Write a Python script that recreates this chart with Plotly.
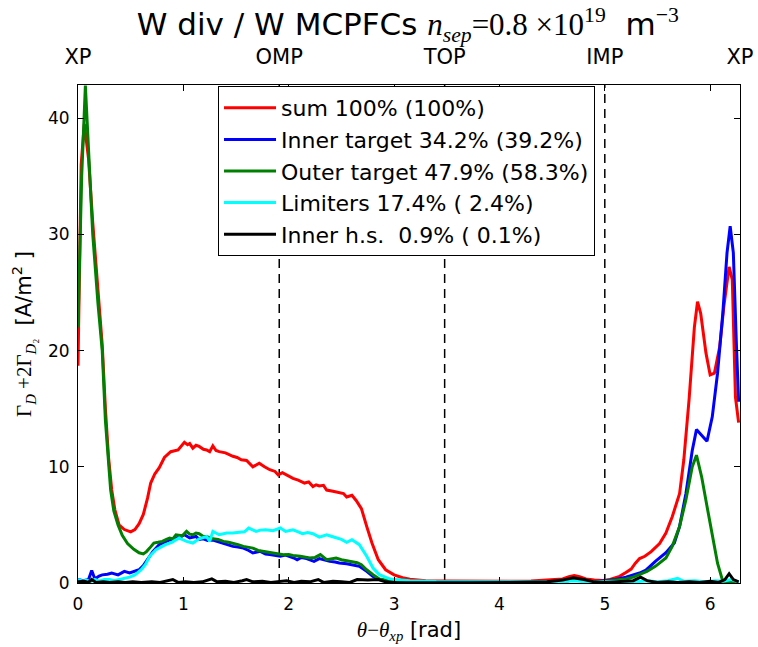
import math
import plotly.graph_objects as go

# ---------------- data ----------------
sum_pts = [(0, 18.7), (0.03, 36), (0.06, 39.5), (0.1, 36.5), (0.14, 31), (0.19, 25), (0.23, 20.5),
           (0.26, 15), (0.29, 10.8), (0.32, 8.0), (0.35, 6.3), (0.39, 5.0), (0.44, 4.6), (0.5, 4.4),
           (0.54, 4.6), (0.58, 5.1), (0.62, 5.9), (0.66, 7.3), (0.69, 8.6), (0.73, 9.4), (0.77, 9.9),
           (0.82, 10.8), (0.88, 11.3), (0.95, 11.45), (1.01, 12.1), (1.04, 11.9), (1.06, 12.0),
           (1.09, 11.6), (1.12, 11.85), (1.15, 11.75), (1.19, 11.5), (1.22, 11.45), (1.25, 11.3),
           (1.28, 11.8), (1.31, 11.4), (1.34, 11.3), (1.4, 11.2), (1.47, 10.9), (1.51, 10.8),
           (1.55, 10.6), (1.6, 10.55), (1.66, 10.0), (1.72, 10.3), (1.77, 10.0), (1.82, 9.75),
           (1.87, 9.6), (1.9, 9.3), (1.94, 9.5), (1.99, 9.25), (2.04, 9.0), (2.09, 8.85), (2.15, 8.6),
           (2.19, 8.7), (2.23, 8.3), (2.26, 8.45), (2.29, 8.35), (2.33, 8.4), (2.36, 8.0), (2.42, 7.9),
           (2.48, 7.75), (2.52, 7.7), (2.55, 7.4), (2.6, 7.55), (2.64, 7.1), (2.69, 6.4), (2.74, 4.87),
           (2.79, 3.44), (2.85, 2.0), (2.92, 1.14), (3.0, 0.7), (3.08, 0.45), (3.15, 0.33), (3.3, 0.2),
           (3.5, 0.17), (3.7, 0.15), (3.9, 0.17), (4.1, 0.16), (4.3, 0.18), (4.5, 0.25), (4.6, 0.35),
           (4.66, 0.55), (4.71, 0.65), (4.76, 0.55), (4.82, 0.35), (4.9, 0.25), (4.98, 0.22),
           (5.05, 0.3), (5.14, 0.57), (5.2, 0.9), (5.25, 1.2), (5.29, 1.7), (5.33, 2.1), (5.38, 2.3),
           (5.44, 2.7), (5.52, 3.4), (5.58, 4.3), (5.64, 5.7), (5.71, 7.7), (5.75, 10.6), (5.8, 15.8),
           (5.85, 22.0), (5.88, 24.2), (5.91, 23.2), (5.96, 19.8), (6.0, 17.9), (6.04, 18.05),
           (6.09, 20.3), (6.13, 23.8), (6.18, 27.2), (6.21, 26.1), (6.24, 16.0), (6.27, 13.8)]

inner_pts = [(0, 0.3), (0.05, 0.2), (0.1, 0.3), (0.13, 1.08), (0.16, 0.35), (0.2, 0.6), (0.23, 0.7),
             (0.28, 0.75), (0.32, 0.86), (0.35, 0.75), (0.38, 0.7), (0.41, 0.85), (0.44, 1.0),
             (0.49, 0.86), (0.54, 1.0), (0.58, 1.14), (0.62, 1.5), (0.645, 1.86), (0.68, 2.3),
             (0.71, 2.7), (0.77, 3.3), (0.82, 3.5), (0.87, 3.7), (0.93, 3.87), (0.97, 3.95),
             (1.01, 4.15), (1.06, 3.87), (1.12, 4.0), (1.15, 3.75), (1.19, 3.8), (1.23, 3.65),
             (1.28, 3.7), (1.33, 3.55), (1.38, 3.44), (1.43, 3.3), (1.47, 3.15), (1.52, 3.1),
             (1.57, 3.0), (1.62, 2.8), (1.66, 2.58), (1.73, 2.72), (1.78, 2.5), (1.82, 2.44),
             (1.87, 2.35), (1.92, 2.3), (1.97, 2.4), (2.01, 2.3), (2.05, 2.15), (2.08, 2.0),
             (2.12, 2.2), (2.17, 2.1), (2.21, 2.0), (2.24, 1.86), (2.29, 2.1), (2.33, 2.0),
             (2.39, 1.86), (2.44, 1.8), (2.48, 1.72), (2.55, 1.65), (2.61, 1.57), (2.67, 1.43),
             (2.74, 1.0), (2.8, 0.57), (2.86, 0.29), (2.96, 0.14), (3.1, 0.06), (3.5, 0.05),
             (4.0, 0.05), (4.5, 0.08), (4.65, 0.2), (4.71, 0.3), (4.78, 0.2), (4.9, 0.1), (5.0, 0.2),
             (5.1, 0.3), (5.2, 0.5), (5.27, 0.7), (5.33, 0.86), (5.39, 1.1), (5.48, 1.86),
             (5.58, 2.6), (5.66, 3.44), (5.71, 4.87), (5.77, 7.7), (5.83, 11.4), (5.87, 13.2),
             (5.91, 12.8), (5.97, 12.2), (6.02, 14.3), (6.07, 18.05), (6.12, 23.2), (6.16, 28.4),
             (6.19, 30.7), (6.22, 28.4), (6.25, 20.3), (6.27, 15.6)]

outer_pts = [(0, 22.0), (0.035, 35), (0.07, 42.8), (0.1, 37), (0.14, 30), (0.19, 24), (0.23, 20),
             (0.26, 14), (0.29, 10), (0.31, 8.0), (0.34, 6.2), (0.38, 5.0), (0.42, 4.1),
             (0.47, 3.4), (0.53, 2.9), (0.58, 2.6), (0.62, 2.5), (0.65, 2.7), (0.68, 3.0),
             (0.72, 3.44), (0.76, 3.5), (0.8, 3.58), (0.84, 3.75), (0.87, 3.87), (0.9, 3.8),
             (0.93, 4.15), (0.99, 4.07), (1.03, 4.44), (1.06, 4.2), (1.09, 4.15), (1.12, 4.3),
             (1.15, 4.24), (1.19, 4.0), (1.22, 4.0), (1.25, 3.9), (1.28, 3.8), (1.33, 3.75),
             (1.38, 3.58), (1.43, 3.5), (1.47, 3.44), (1.52, 3.3), (1.57, 3.15), (1.62, 3.1),
             (1.66, 3.0), (1.71, 2.8), (1.76, 2.72), (1.8, 2.7), (1.85, 2.58), (1.9, 2.5),
             (1.95, 2.44), (2.0, 2.45), (2.04, 2.36), (2.11, 2.3), (2.16, 2.2), (2.2, 2.15),
             (2.25, 2.2), (2.3, 2.44), (2.36, 2.0), (2.41, 2.1), (2.45, 2.15), (2.5, 2.0),
             (2.55, 1.93), (2.61, 1.86), (2.65, 1.75), (2.69, 1.57), (2.74, 1.14), (2.8, 0.72),
             (2.86, 0.34), (2.96, 0.2), (3.1, 0.07), (3.5, 0.05), (4.0, 0.05), (4.5, 0.08),
             (4.65, 0.2), (4.71, 0.3), (4.78, 0.2), (4.9, 0.1), (5.0, 0.15), (5.1, 0.25),
             (5.2, 0.35), (5.27, 0.5), (5.33, 0.7), (5.4, 1.0), (5.48, 1.43), (5.58, 2.15),
             (5.64, 3.15), (5.71, 4.87), (5.77, 7.16), (5.83, 10.0), (5.87, 11.0), (5.92, 9.1),
             (5.97, 6.6), (6.02, 4.0), (6.07, 1.7), (6.12, 0.14), (6.2, 0.05), (6.27, 0.05)]

limiter_pts = [(0, 0.3), (0.04, 0.15), (0.08, 0.25), (0.12, 0.1), (0.16, 0.3), (0.2, 0.15),
               (0.25, 0.3), (0.3, 0.3), (0.34, 0.2), (0.39, 0.3), (0.44, 0.36), (0.49, 0.5),
               (0.54, 0.7), (0.6, 1.14), (0.64, 1.6), (0.68, 2.3), (0.74, 2.87), (0.79, 3.1),
               (0.83, 3.3), (0.89, 3.5), (0.96, 3.87), (1.0, 3.7), (1.03, 3.58), (1.09, 3.44),
               (1.15, 3.8), (1.22, 4.0), (1.25, 3.58), (1.28, 4.44), (1.34, 4.15), (1.41, 4.3),
               (1.47, 4.3), (1.53, 4.37), (1.58, 4.4), (1.62, 4.73), (1.69, 4.44), (1.73, 4.55),
               (1.78, 4.58), (1.85, 4.5), (1.92, 4.73), (1.97, 4.44), (2.04, 4.58), (2.09, 4.4),
               (2.13, 4.24), (2.18, 4.35), (2.23, 4.24), (2.29, 3.95), (2.36, 4.15), (2.41, 4.0),
               (2.45, 3.87), (2.5, 3.75), (2.55, 3.5), (2.6, 3.72), (2.67, 3.3), (2.74, 2.3),
               (2.8, 1.29), (2.86, 0.72), (2.96, 0.34), (3.15, 0.2), (3.4, 0.12), (3.7, 0.1),
               (4.0, 0.1), (4.3, 0.1), (4.6, 0.12), (4.71, 0.2), (4.8, 0.12), (5.0, 0.1),
               (5.2, 0.15), (5.3, 0.1), (5.4, 0.2), (5.5, 0.1), (5.6, 0.2), (5.69, 0.4),
               (5.75, 0.15), (5.85, 0.2), (5.95, 0.1), (6.05, 0.2), (6.12, 0.15), (6.2, 0.3),
               (6.27, 0.1)]

hs_pts = [(0, 0.1), (0.06, 0.15), (0.1, 0.05), (0.13, 0.3), (0.17, 0.05), (0.24, 0.1), (0.3, 0.05),
          (0.38, 0.1), (0.45, 0.05), (0.52, 0.1), (0.6, 0.05), (0.7, 0.1), (0.78, 0.05),
          (0.86, 0.2), (0.9, 0.3), (0.95, 0.05), (1.02, 0.1), (1.1, 0.05), (1.18, 0.1),
          (1.27, 0.35), (1.32, 0.1), (1.4, 0.15), (1.48, 0.05), (1.56, 0.2), (1.6, 0.3),
          (1.66, 0.1), (1.75, 0.15), (1.83, 0.05), (1.9, 0.1), (1.98, 0.2), (2.05, 0.05),
          (2.12, 0.15), (2.2, 0.1), (2.28, 0.3), (2.33, 0.05), (2.42, 0.15), (2.5, 0.1),
          (2.58, 0.05), (2.65, 0.3), (2.75, 0.25), (2.85, 0.3), (2.92, 0.1), (3.0, 0.05),
          (3.3, 0.03), (3.7, 0.03), (4.1, 0.05), (4.45, 0.1), (4.6, 0.25), (4.7, 0.45),
          (4.8, 0.3), (4.9, 0.1), (5.0, 0.05), (5.15, 0.1), (5.27, 0.2), (5.34, 0.5),
          (5.4, 0.2), (5.5, 0.05), (5.6, 0.1), (5.7, 0.05), (5.8, 0.1), (5.9, 0.05),
          (6.0, 0.15), (6.08, 0.05), (6.14, 0.3), (6.18, 0.8), (6.22, 0.3), (6.27, 0.1)]

series_names = ["sum 100% (100%)", "Inner target 34.2% (39.2%)", "Outer target 47.9% (58.3%)",
                "Limiters 17.4% ( 2.4%)", "Inner h.s.  0.9% ( 0.1%)"]
series_pts = [sum_pts, inner_pts, outer_pts, limiter_pts, hs_pts]
series_colors = ["#ff0000", "#0000ff", "#008000", "#00ffff", "#000000"]

landmark_pos = [0.0, 1.91, 3.48, 5.0, 2 * math.pi]
landmark_labels = ["XP", "OMP", "TOP", "IMP", "XP"]
dashed_pos = landmark_pos[1:4]

x_ticks = [0, 1, 2, 3, 4, 5, 6]
y_ticks = [0, 10, 20, 30, 40]
x_max = 2 * math.pi
y_max = 42.85

# ---------------- figure ----------------
SERIF = "Liberation Serif"
SANS = "DejaVu Sans"

fig = go.Figure()
for i, (name, pts, col) in enumerate(zip(series_names, series_pts, series_colors)):
    xs, ys = zip(*pts)
    fig.add_trace(go.Scatter(x=list(xs), y=list(ys), mode="lines", name=name,
                             line=dict(color=col, width=3), legendgroup=f"g{i}"))

# invisible trace to carry the top axis
fig.add_trace(go.Scatter(x=landmark_pos, y=[0] * len(landmark_pos), xaxis="x2", mode="lines",
                         opacity=0, showlegend=False, hoverinfo="skip"))

for xp in dashed_pos:
    fig.add_vline(x=xp, line=dict(color="black", width=1.5, dash="9px,6px"), layer="below")

title_html = ("W div / W MCPFCs "
              f"<span style='font-family:{SERIF}'><i>n</i><sub><i>sep</i></sub>=0.8 ×10<sup>19</sup></span>"
              f"  m<sup><span style='font-family:{SERIF}'>−3</span></sup>")
xlab = (f"<span style='font-family:{SERIF}'><i>θ</i>−<i>θ</i><sub><i>xp</i></sub></span> [rad]")
ylab = (f"<span style='font-family:{SERIF}'>Γ<sub><i>D</i></sub> +2Γ<sub><i>D</i>₂</sub></span>"
        "  [A/m<sup>2</sup> ]")

fig.update_layout(
    width=758, height=647,
    margin=dict(l=78, r=18, t=85, b=64, autoexpand=False),
    paper_bgcolor="white", plot_bgcolor="white",
    font=dict(family=SANS, size=17, color="black"),
    title=dict(text=title_html, x=0.538, xanchor="center", y=0.962, yanchor="middle",
               font=dict(size=31, family=SANS)),
    showlegend=True,
    legend=dict(x=0.2115, y=0.998, xanchor="left", yanchor="top", bgcolor="white",
                bordercolor="black", borderwidth=1, font=dict(size=22, family=SANS),
                tracegroupgap=0, traceorder="normal", itemwidth=52),
    xaxis=dict(range=[0, x_max], tickvals=x_ticks, ticks="inside", ticklen=6, tickcolor="black",
               showline=True, linecolor="black", linewidth=1, mirror="ticks", showgrid=False,
               zeroline=False, ticklabelstandoff=6, automargin=False,
               title=dict(text=xlab, font=dict(size=21), standoff=8)),
    xaxis2=dict(range=[0, x_max], overlaying="x", side="top", tickvals=landmark_pos,
                ticktext=landmark_labels, ticks="", showgrid=False, zeroline=False,
                showline=False, tickfont=dict(size=21), ticklabelstandoff=16, automargin=False),
    yaxis=dict(range=[0, y_max], tickvals=y_ticks, ticks="inside", ticklen=6, tickcolor="black",
               showline=True, linecolor="black", linewidth=1, mirror="ticks", showgrid=False,
               zeroline=False, ticklabelstandoff=4, automargin=False,
               title=dict(text=ylab, font=dict(size=21), standoff=10)),
)

fig.write_html("out.html")
